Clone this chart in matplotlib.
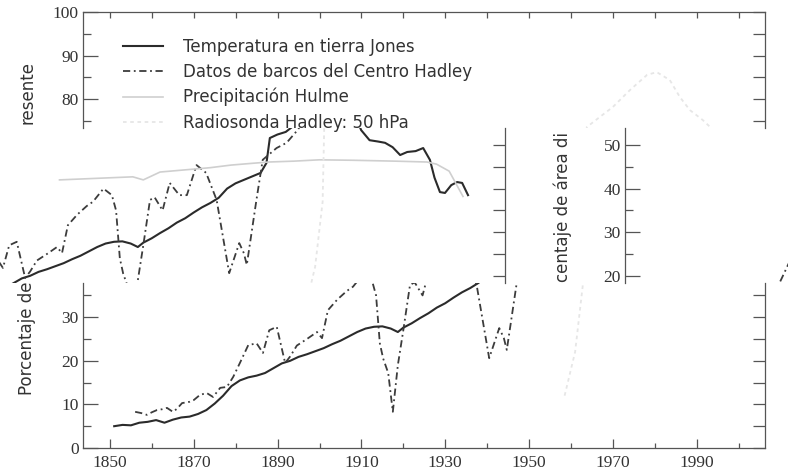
import matplotlib.pyplot as plt
from matplotlib.ticker import MultipleLocator

# ---- values (percent of area) ----
jones_years = [1851, 1853, 1855, 1857, 1859, 1861, 1863, 1865, 1867, 1869, 1871, 1873,
               1875, 1877, 1879, 1881, 1883, 1885, 1887, 1889, 1891, 1893, 1895, 1897,
               1899, 1901, 1903, 1905, 1907, 1909, 1911, 1913, 1915, 1917, 1918.7, 1920,
               1922, 1924, 1926, 1928, 1930, 1932, 1934, 1936, 1938, 1940, 1942, 1944,
               1946, 1948, 1949.4, 1950.2, 1952, 1954, 1956, 1960, 1965, 1970, 1972,
               1974, 1976, 1977.7, 1979.5, 1981.3, 1983, 1985, 1986.8, 1988.4, 1989.5,
               1990.8, 1992, 1993.5, 1994.9, 1996.1, 1997.5]
jones_pct = [5.0, 5.3, 5.2, 5.8, 6.0, 6.4, 5.8, 6.5, 7.0, 7.2, 7.8, 8.7,
             10.2, 12.0, 14.2, 15.5, 16.2, 16.6, 17.2, 18.3, 19.4, 20.0, 20.9, 21.5,
             22.2, 22.9, 23.8, 24.6, 25.6, 26.6, 27.4, 27.8, 27.9, 27.4, 26.6, 27.6,
             28.6, 29.8, 30.9, 32.2, 33.2, 34.5, 35.7, 36.7, 37.9, 40.0, 41.2, 42.0,
             42.8, 43.6, 45.9, 51.6, 52.4, 53.0, 54.5, 58.0, 61.0, 58.0, 53.4,
             51.1, 50.8, 50.5, 49.5, 47.7, 48.4, 48.6, 49.3, 46.6, 42.5,
             39.2, 39.0, 40.8, 41.5, 41.3, 38.5]

ships_years = [1856, 1857.5, 1858.8, 1860, 1861.2, 1862.5, 1863.6, 1865, 1866, 1867.2,
               1869, 1870, 1871.5, 1873.1, 1874.6, 1876.3, 1877.9, 1879.4, 1881, 1883,
               1885, 1886.5, 1888, 1889.8, 1891.8, 1893, 1894.6, 1897, 1899.4, 1900.6,
               1902, 1904.2, 1906.5, 1908, 1910.5, 1912.5, 1913.5, 1914.4, 1915.2,
               1916.4, 1917.5, 1918.7, 1920, 1921.6, 1922.7, 1924.6, 1926.3, 1928.6,
               1930.4, 1932.7, 1935, 1937.5, 1940.5, 1942.9, 1944, 1944.7, 1947,
               1948.5, 1951.8, 1954.2, 1956.8, 1960, 1970, 1980, 1990, 2000]
ships_pct = [8.3, 8.0, 7.6, 8.2, 8.7, 8.9, 9.2, 8.3, 9.0, 10.3,
             10.6, 11.0, 12.2, 12.6, 11.7, 13.8, 14.0, 16.3, 19.5, 23.6,
             24.0, 21.8, 27.0, 27.8, 19.5, 21.0, 23.5, 25.0, 26.6, 25.2,
             31.6, 34.0, 36.0, 37.0, 40.0, 38.5, 35.0, 24.0, 20.5,
             17.2, 8.3, 19.0, 27.0, 37.4, 38.0, 35.0, 41.3, 38.5,
             38.5, 45.4, 43.6, 37.4, 20.6, 27.5, 25.2, 22.5, 37.4,
             46.6, 49.3, 50.5, 53.4, 58.0, 62.0, 64.0, 65.0, 63.0]

hulme_years = [1900, 1905, 1910, 1915, 1917.5, 1920, 1924, 1930, 1936, 1941, 1946,
               1950, 1956, 1962, 1970, 1980, 1987.7, 1990, 1993, 1996.3]
hulme_pct = [42.0, 42.2, 42.4, 42.6, 42.7, 42.0, 43.8, 44.3, 44.8, 45.4, 45.8,
             46.1, 46.3, 46.6, 46.5, 46.3, 46.1, 45.6, 44.0, 38.2]

radio_years = [1958.5, 1961, 1962.8, 1963.2, 1963.8, 1967, 1970, 1974.1, 1978.2,
               1980.5, 1983.6, 1986, 1988.4, 1991.5, 1995, 2000]
radio_pct = [12, 22, 37, 55, 73.6, 76, 78.2, 82.1, 85.6, 86.2, 84.4, 80.5, 77.5,
             75.2, 72, 70]

legend_labels = ["Temperatura en tierra Jones", "Datos de barcos del Centro Hadley",
                 "Precipitación Hulme", "Radiosonda Hadley: 50 hPa"]
year_ticks = [1850, 1870, 1890, 1910, 1930, 1950, 1970, 1990]
ylabel_parts = ["resente", "centaje de área di", "Porcentaje de"]

# ---- layout (pixels of the 788x475 picture) ----
W, H = 788, 475
PX_YEAR = 4.19
PX_PCT = 4.36
SPINE = "#555555"
INK = "#333333"


def box(x0, y0, x1, y1):
    return [x0 / W, 1 - y1 / H, (x1 - x0) / W, (y1 - y0) / H]


def year_at(px):
    return 1850 + (px - 110) / PX_YEAR


def pct_at(py):
    return (448 - py) / PX_PCT


series = [(jones_years, jones_pct), (ships_years, ships_pct),
          (hulme_years, hulme_pct), (radio_years, radio_pct)]
styles = [dict(color="#2b2b2b", lw=1.5, ls="-"),
          dict(color="#3c3c3c", lw=1.3, ls=(0, (4, 2, 1, 2))),
          dict(color="#cfcfcf", lw=1.2, ls="-"),
          dict(color="#e6e6e6", lw=1.3, ls=(0, (2, 2)))]


def draw(ax):
    lines = []
    for (xs, ys), st, lab in zip(series, styles, legend_labels):
        ln, = ax.plot(xs, ys, label=lab, **st)
        lines.append(ln)
    ax.set_facecolor("none")
    for s in ax.spines.values():
        s.set_visible(False)
        s.set_color(SPINE)
        s.set_linewidth(0.9)
    ax.tick_params(which="both", left=False, right=False, top=False, bottom=False,
                   labelleft=False, labelbottom=False, color=SPINE)
    return lines


def left_axis(ax):
    ax.spines["left"].set_visible(True)
    ax.yaxis.set_major_locator(MultipleLocator(10))
    ax.yaxis.set_minor_locator(MultipleLocator(5))
    ax.tick_params(axis="y", which="major", left=True, direction="in", length=10.5,
                   width=0.9, labelleft=True, labelsize=12.5, labelcolor=INK,
                   labelfontfamily="Liberation Serif", pad=3)
    ax.tick_params(axis="y", which="minor", left=True, direction="in", length=5.5,
                   width=0.9)


def right_ticks(ax):
    sec = ax.secondary_yaxis("right")
    sec.yaxis.set_major_locator(MultipleLocator(5))
    sec.tick_params(direction="in", length=8.5, width=0.9, color=SPINE, labelright=False)
    sec.spines["right"].set_color(SPINE)
    sec.spines["right"].set_linewidth(0.9)


fig = plt.figure(figsize=(W / 100, H / 100), dpi=100)

# top strip
ax_top = fig.add_axes(box(83, 12, 765, 128))
draw(ax_top)
ax_top.set_xlim(year_at(83), year_at(765))
ax_top.set_ylim(pct_at(128), 100)
left_axis(ax_top)
right_ticks(ax_top)
top = ax_top.secondary_xaxis("top")
top.xaxis.set_major_locator(MultipleLocator(10))
top.tick_params(direction="in", length=4.5, width=0.9, color=SPINE, labeltop=False)
top.spines["top"].set_color(SPINE)
top.spines["top"].set_linewidth(0.9)

# middle strip, shifted piece
ax_mid = fig.add_axes(box(0, 128, 505, 283))
draw(ax_mid)
ax_mid.set_xlim(year_at(260), year_at(765))
ax_mid.set_ylim(pct_at(283 + 85), pct_at(128 + 85))
right_ticks(ax_mid)

# middle strip, wrapped left axis
ax_wrap = fig.add_axes(box(625, 128, 625 + 682, 283))
draw(ax_wrap)
ax_wrap.set_xlim(year_at(83), year_at(765))
ax_wrap.set_ylim(pct_at(283 + 85), pct_at(128 + 85))
left_axis(ax_wrap)

# bottom strip
ax_bot = fig.add_axes(box(83, 283, 765, 448))
lines = draw(ax_bot)
ax_bot.set_xlim(year_at(83), year_at(765))
ax_bot.set_ylim(0, pct_at(283))
left_axis(ax_bot)
right_ticks(ax_bot)
ax_bot.spines["bottom"].set_visible(True)
ax_bot.set_xticks(year_ticks)
ax_bot.xaxis.set_minor_locator(MultipleLocator(10))
ax_bot.tick_params(axis="x", which="major", bottom=True, direction="in", length=6.5,
                   width=0.9, labelbottom=True, labelsize=12.5, labelcolor=INK,
                   labelfontfamily="Liberation Serif", pad=5)
ax_bot.tick_params(axis="x", which="minor", bottom=True, direction="in", length=3.6,
                   width=0.9)

# pieces of the y label
fig.text(28 / W, 1 - 93 / H, ylabel_parts[0], rotation=90, ha="center", va="center",
         fontsize=12, color=INK)
fig.text(563 / W, 1 - 207 / H, ylabel_parts[1], rotation=90, ha="center", va="center",
         fontsize=12, color=INK)
fig.text(27 / W, 1 - 338 / H, ylabel_parts[2], rotation=90, ha="center", va="center",
         fontsize=12, color=INK)

leg = fig.legend(handles=lines, loc="upper left", bbox_to_anchor=(123 / W, 1 - 38 / H),
                 frameon=False, fontsize=12, handlelength=2.4, handletextpad=1.2,
                 labelspacing=0.42, borderpad=0, borderaxespad=0)
for t in leg.get_texts():
    t.set_color(INK)

fig.savefig("out.png", dpi=100)
